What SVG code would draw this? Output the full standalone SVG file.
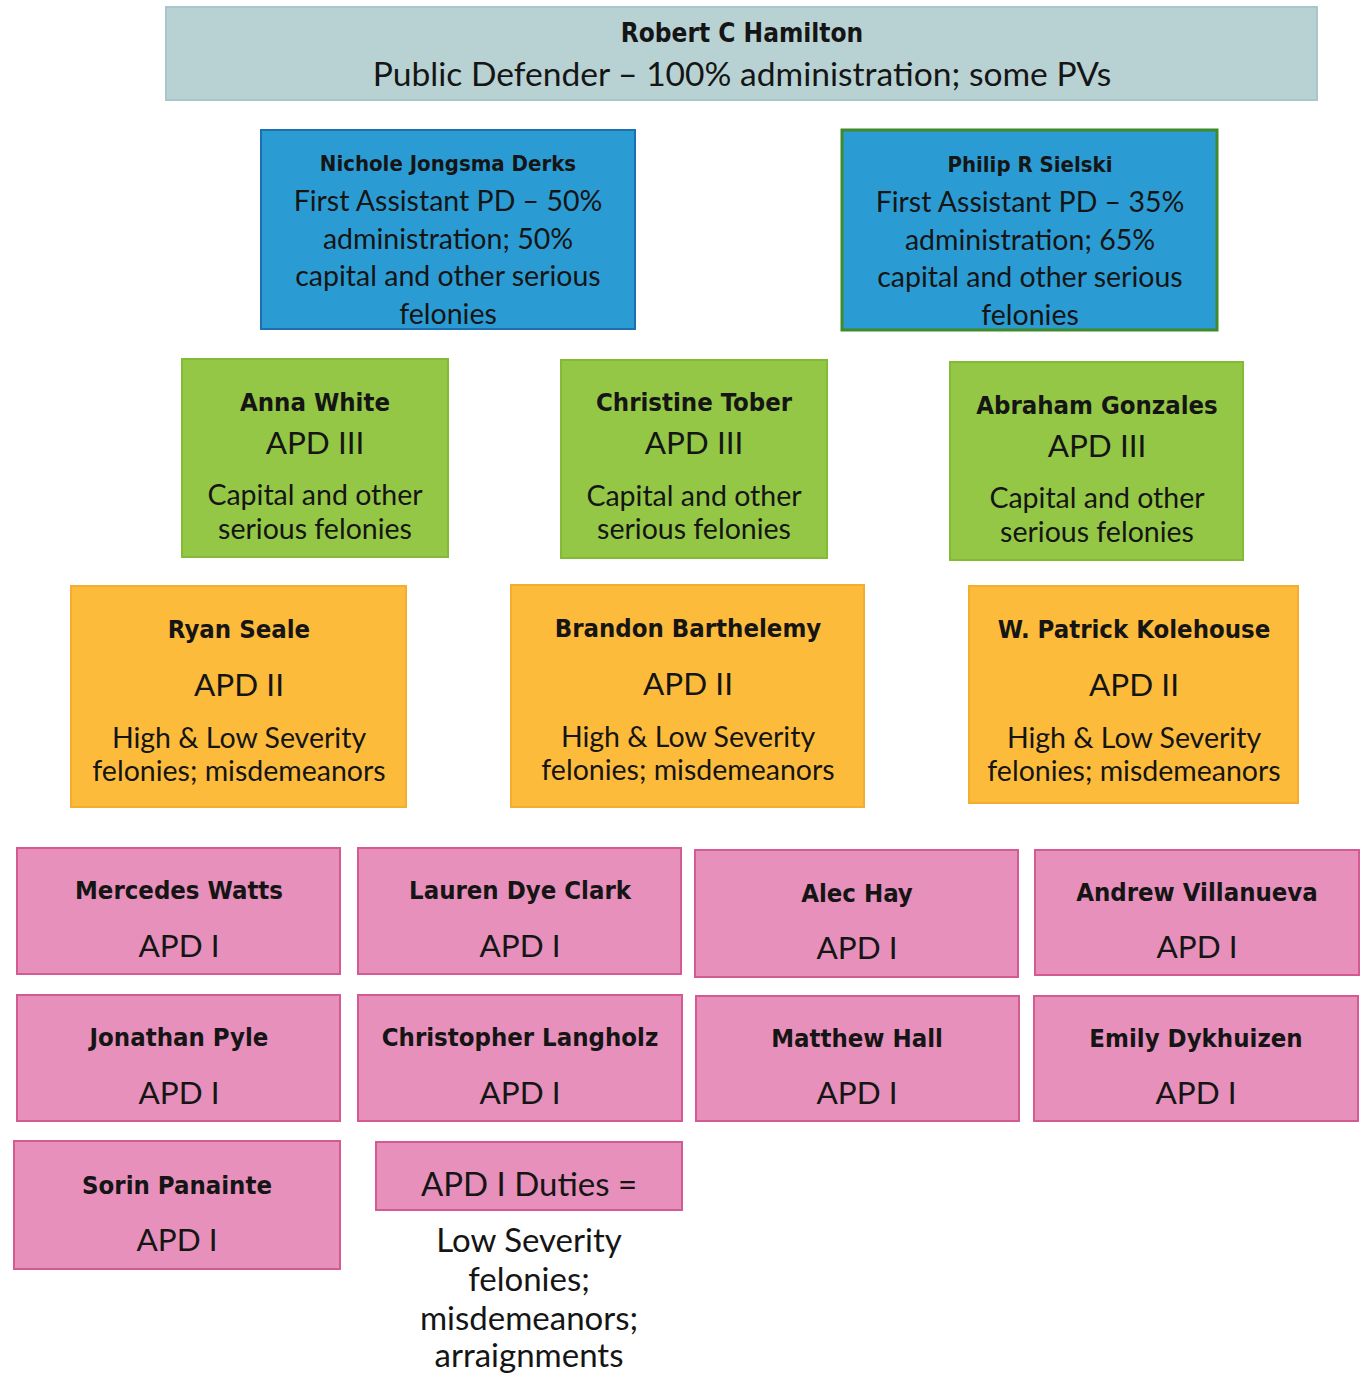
<svg xmlns="http://www.w3.org/2000/svg" width="1360" height="1376" viewBox="0 0 1360 1376">
<style>
text{font-family:"Lato","Noto Sans",sans-serif;fill:#151515;text-anchor:middle;dominant-baseline:central}
.n{font-family:"DejaVu Sans Condensed","DejaVu Sans",sans-serif;font-stretch:condensed;font-weight:bold;font-size:25.5px}
.top{fill:#b8d2d4;stroke:#a9c6c8;stroke-width:2}
.blue{fill:#2b9cd3;stroke:#1e6fb0;stroke-width:2}
.blueg{fill:#2b9cd3;stroke:#3f8a2a;stroke-width:3}
.green{fill:#94c745;stroke:#84bb36;stroke-width:2}
.orange{fill:#fdbb3c;stroke:#f5ad30;stroke-width:2}
.pink{fill:#e690bb;stroke:#d45a92;stroke-width:2}
.b{font-size:28.5px}.d{font-size:28.5px}.a{font-size:31.5px}.u{font-size:33px}
</style>
<rect width="1360" height="1376" fill="#fff"/>
<g id="robert">
<rect class="top" x="166" y="7" width="1151" height="93"/>
<text class="n" x="742" y="33" style="font-size:26px">Robert C Hamilton</text>
<text class="u" x="742" y="73" style="font-size:33.6px">Public Defender – 100% administration; some PVs</text>
</g>
<g id="nichole">
<rect class="blue" x="261" y="130" width="374" height="199"/>
<text class="n" x="448" y="163" style="font-size:22px">Nichole Jongsma Derks</text>
<text class="b" x="448" y="200">First Assistant PD – 50%</text>
<text class="b" x="448" y="238">administration; 50%</text>
<text class="b" x="448" y="275">capital and other serious</text>
<text class="b" x="448" y="313">felonies</text>
</g>
<g id="philip">
<rect class="blueg" x="842" y="130" width="375" height="200"/>
<text class="n" x="1030" y="164" style="font-size:22px">Philip R Sielski</text>
<text class="b" x="1030" y="201">First Assistant PD – 35%</text>
<text class="b" x="1030" y="239">administration; 65%</text>
<text class="b" x="1030" y="276">capital and other serious</text>
<text class="b" x="1030" y="314">felonies</text>
</g>
<g id="anna">
<rect class="green" x="182" y="359" width="266" height="198"/>
<text class="n" x="315" y="402">Anna White</text>
<text class="a" x="315" y="442">APD III</text>
<text class="d" x="315" y="494">Capital and other</text>
<text class="d" x="315" y="528">serious felonies</text>
</g>
<g id="christine">
<rect class="green" x="561" y="360" width="266" height="198"/>
<text class="n" x="694" y="402">Christine Tober</text>
<text class="a" x="694" y="442">APD III</text>
<text class="d" x="694" y="495">Capital and other</text>
<text class="d" x="694" y="528">serious felonies</text>
</g>
<g id="abraham">
<rect class="green" x="950" y="362" width="293" height="198"/>
<text class="n" x="1097" y="405">Abraham Gonzales</text>
<text class="a" x="1097" y="445">APD III</text>
<text class="d" x="1097" y="497">Capital and other</text>
<text class="d" x="1097" y="531">serious felonies</text>
</g>
<g id="ryan">
<rect class="orange" x="71" y="586" width="335" height="221"/>
<text class="n" x="239" y="629">Ryan Seale</text>
<text class="a" x="239" y="684">APD II</text>
<text class="d" x="239" y="737">High &amp; Low Severity</text>
<text class="d" x="239" y="770">felonies; misdemeanors</text>
</g>
<g id="brandon">
<rect class="orange" x="511" y="585" width="353" height="222"/>
<text class="n" x="688" y="628">Brandon Barthelemy</text>
<text class="a" x="688" y="683">APD II</text>
<text class="d" x="688" y="736">High &amp; Low Severity</text>
<text class="d" x="688" y="769">felonies; misdemeanors</text>
</g>
<g id="patrick">
<rect class="orange" x="969" y="586" width="329" height="217"/>
<text class="n" x="1134" y="629">W. Patrick Kolehouse</text>
<text class="a" x="1134" y="684">APD II</text>
<text class="d" x="1134" y="737">High &amp; Low Severity</text>
<text class="d" x="1134" y="770">felonies; misdemeanors</text>
</g>
<g id="mercedes">
<rect class="pink" x="17" y="848" width="323" height="126"/>
<text class="n" x="179" y="890">Mercedes Watts</text>
<text class="a" x="179" y="945">APD I</text>
</g>
<g id="lauren">
<rect class="pink" x="358" y="848" width="323" height="126"/>
<text class="n" x="520" y="890">Lauren Dye Clark</text>
<text class="a" x="520" y="945">APD I</text>
</g>
<g id="alec">
<rect class="pink" x="695" y="850" width="323" height="127"/>
<text class="n" x="857" y="893">Alec Hay</text>
<text class="a" x="857" y="947">APD I</text>
</g>
<g id="andrew">
<rect class="pink" x="1035" y="850" width="324" height="125"/>
<text class="n" x="1197" y="892">Andrew Villanueva</text>
<text class="a" x="1197" y="946">APD I</text>
</g>
<g id="jonathan">
<rect class="pink" x="17" y="995" width="323" height="126"/>
<text class="n" x="179" y="1037">Jonathan Pyle</text>
<text class="a" x="179" y="1092">APD I</text>
</g>
<g id="christopher">
<rect class="pink" x="358" y="995" width="324" height="126"/>
<text class="n" x="520" y="1037">Christopher Langholz</text>
<text class="a" x="520" y="1092">APD I</text>
</g>
<g id="matthew">
<rect class="pink" x="696" y="996" width="323" height="125"/>
<text class="n" x="857" y="1038">Matthew Hall</text>
<text class="a" x="857" y="1092">APD I</text>
</g>
<g id="emily">
<rect class="pink" x="1034" y="996" width="324" height="125"/>
<text class="n" x="1196" y="1038">Emily Dykhuizen</text>
<text class="a" x="1196" y="1092">APD I</text>
</g>
<g id="sorin">
<rect class="pink" x="14" y="1141" width="326" height="128"/>
<text class="n" x="177" y="1185">Sorin Panainte</text>
<text class="a" x="177" y="1239">APD I</text>
</g>
<g id="duties">
<rect class="pink" x="376" y="1142" width="306" height="68"/>
<text class="u" x="529" y="1183">APD I Duties =</text>
<text class="u" x="529" y="1239">Low Severity</text>
<text class="u" x="529" y="1278">felonies;</text>
<text class="u" x="529" y="1317">misdemeanors;</text>
<text class="u" x="529" y="1354">arraignments</text>
</g>
<g id="connectors"></g>
</svg>
